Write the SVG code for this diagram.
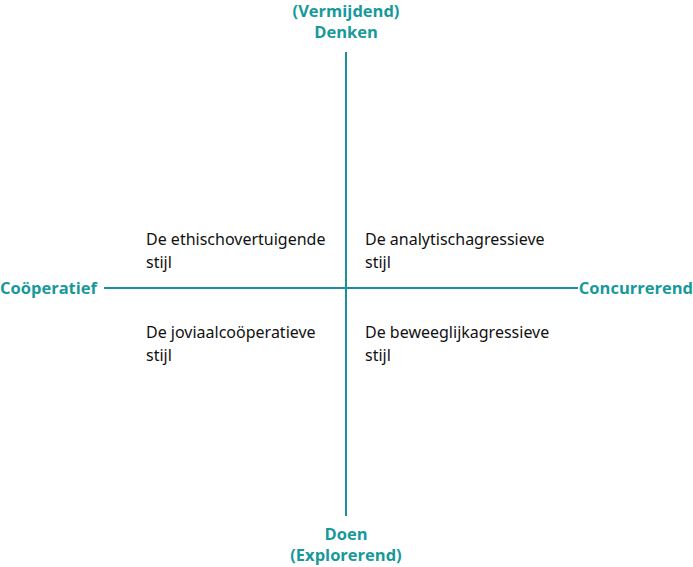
<svg xmlns="http://www.w3.org/2000/svg" width="693" height="567" viewBox="0 0 693 567">
<style>
.ax{font-family:"Open Sans","Noto Sans",sans-serif;font-weight:700;font-size:16.5px;fill:#17999a}
.q{font-family:"Noto Sans","Open Sans",sans-serif;font-size:16px;fill:#111}
.ln{stroke:#1b8ea3;stroke-width:2;fill:none}
</style>
<rect width="693" height="567" fill="#fff"/>
<g id="connectors">
<line class="ln" x1="346" y1="52" x2="346" y2="516"/>
<line class="ln" x1="104" y1="288" x2="578" y2="288"/>
</g>
<g id="top"><text class="ax" x="346" y="17" text-anchor="middle">(Vermijdend)</text><text class="ax" x="346" y="38" text-anchor="middle">Denken</text></g>
<g id="bottom"><text class="ax" x="346" y="540" text-anchor="middle">Doen</text><text class="ax" x="346" y="561" text-anchor="middle">(Explorerend)</text></g>
<g id="left"><text class="ax" x="0" y="294">Coöperatief</text></g>
<g id="right"><text class="ax" x="693" y="294" text-anchor="end">Concurrerend</text></g>
<g id="q1"><text class="q" x="146" y="245">De ethischovertuigende</text><text class="q" x="146" y="268">stijl</text></g>
<g id="q2"><text class="q" x="365" y="245">De analytischagressieve</text><text class="q" x="365" y="268">stijl</text></g>
<g id="q3"><text class="q" x="146" y="338">De joviaalcoöperatieve</text><text class="q" x="146" y="361">stijl</text></g>
<g id="q4"><text class="q" x="365" y="338">De beweeglijkagressieve</text><text class="q" x="365" y="361">stijl</text></g>
</svg>
